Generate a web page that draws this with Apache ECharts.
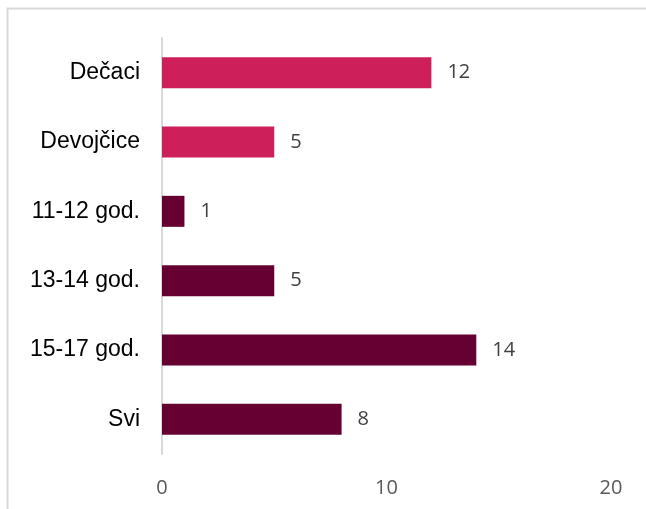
<!DOCTYPE html>
<html>
<head>
<meta charset="utf-8">
<script src="https://cdn.jsdelivr.net/npm/echarts@6/dist/echarts.min.js"></script>
<style>
  html, body { margin: 0; padding: 0; background: #fff; }
  #chart { width: 646px; height: 509px; }
</style>
</head>
<body>
<div id="chart"></div>
<script>
  var categories = ['Dečaci', 'Devojčice', '11-12 god.', '13-14 god.', '15-17 god.', 'Svi'];
  var values = [12, 5, 1, 5, 14, 8];
  var barColors = ['#cd1f59', '#cd1f59', '#660033', '#660033', '#660033', '#660033'];
  var xTicks = [0, 10, 20];

  var chartDom = document.getElementById('chart');
  var myChart = echarts.init(chartDom);

  var option = {
    animation: false,
    graphic: [{
      type: 'rect',
      shape: { x: 7.5, y: 8.5, width: 700, height: 600 },
      style: { fill: 'none', stroke: '#d9d9d9', lineWidth: 2 }
    }],
    grid: { left: 162, right: 35, top: 38, bottom: 55 },
    xAxis: {
      type: 'value',
      min: xTicks[0],
      max: xTicks[xTicks.length - 1],
      interval: 10,
      splitLine: { show: false },
      axisLine: { show: false },
      axisTick: { show: false },
      axisLabel: {
        color: '#595959',
        fontFamily: 'Open Sans',
        fontSize: 20,
        margin: 24
      }
    },
    yAxis: {
      type: 'category',
      inverse: true,
      data: categories,
      axisLine: { show: true, lineStyle: { color: '#d9d9d9', width: 2 } },
      axisTick: { show: false },
      axisLabel: {
        color: '#000',
        fontFamily: 'Liberation Sans',
        fontSize: 23,
        margin: 22
      }
    },
    series: [{
      type: 'bar',
      barWidth: 31,
      data: values.map(function (v, i) {
        return { value: v, itemStyle: { color: barColors[i] } };
      }),
      label: {
        show: true,
        position: 'right',
        distance: 16,
        color: '#404040',
        fontFamily: 'Open Sans',
        fontSize: 20
      }
    }]
  };

  option && myChart.setOption(option);
</script>
</body>
</html>
